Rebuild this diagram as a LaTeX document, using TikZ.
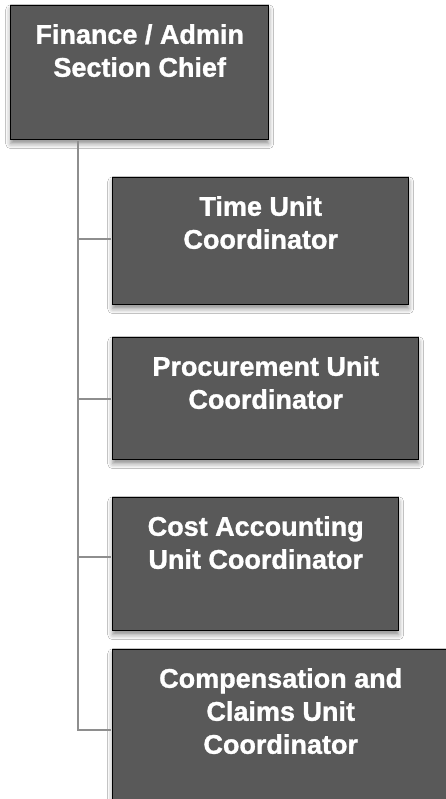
\documentclass[tikz,border=0pt]{standalone}
\usepackage{fontspec}
\setmainfont{Liberation Sans}[BoldFeatures={FakeBold=1.2}]
\usetikzlibrary{positioning,shadows.blur}
\definecolor{boxgray}{HTML}{595959}
\definecolor{linegray}{HTML}{8E8E8E}
\tikzset{
  orgbox/.style={draw=black,line width=1.4pt,fill=boxgray,anchor=north west,inner sep=0pt,
    blur shadow={shadow xshift=0pt,shadow yshift=-4pt,shadow blur radius=5pt,shadow opacity=45}},
  orgtext/.style={anchor=north,align=center,inner sep=0pt,text=white,font=\fontsize{27}{33}\selectfont\bfseries},
  orgline/.style={draw=linegray,line width=2pt,shorten <=0.7pt,shorten >=0.7pt}
}
\begin{document}
\begin{tikzpicture}[x=1pt,y=1pt]
  \useasboundingbox[fill=white] (0,0) rectangle (446,-799);
  \clip (0,0) rectangle (446,-799);

  % section chief and unit boxes
  \node[orgbox,minimum width=258pt,minimum height=134pt] (chief) at (10,-5) {};
  \node[orgbox,minimum width=296pt,minimum height=127pt] (time) at (112,-177) {};
  \node[orgbox,minimum width=306pt,minimum height=122pt] (proc) at (112,-337) {};
  \node[orgbox,minimum width=286pt,minimum height=133pt] (cost) at (112,-497) {};
  \node[orgbox,minimum width=336pt,minimum height=160pt] (comp) at (112,-649) {};

  % titles
  \node[orgtext,below=19pt of chief.north] (chieftext) {Finance / Admin\\Section Chief};
  \node[orgtext,below=19pt of time.north] (timetext) {Time Unit\\Coordinator};
  \node[orgtext,below=19pt of proc.north] (proctext) {Procurement Unit\\Coordinator};
  \node[orgtext,below=19pt of cost.north] (costtext) {Cost Accounting\\Unit Coordinator};
  \node[orgtext,below=19pt of comp.north] (comptext) {Compensation and\\Claims Unit\\Coordinator};

  % reporting lines
  \coordinate (trunk) at ([xshift=68pt]chief.south west);
  \draw[orgline] (trunk) |- ([yshift=2pt]time.west);
  \draw[orgline] (trunk) |- (proc.west);
  \draw[orgline] (trunk) |- ([yshift=7pt]cost.west);
  \draw[orgline] (trunk) |- (comp.west);
\end{tikzpicture}
\end{document}
